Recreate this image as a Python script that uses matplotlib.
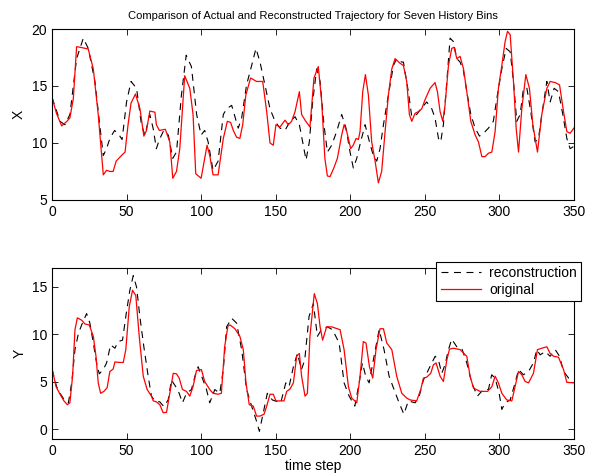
import matplotlib
matplotlib.use("Agg")
import matplotlib.pyplot as plt

plt.rcParams['font.family'] = ['Liberation Sans', 'DejaVu Sans']
plt.rcParams['lines.scale_dashes'] = False

# X trajectory, original
tx_orig = [0, 3, 6.5, 10, 12, 14.3, 16.5, 18.8, 24.3, 27.7, 31, 34.4, 36.6, 38.8, 41, 43, 46.6, 49,
           51, 53, 56, 59, 61.6, 63.4, 65.6, 69, 70, 72, 76, 79, 81, 83.5, 85.7, 89, 92.4, 94.6, 96.4,
           100, 102.4, 104, 105.8, 108, 111.4, 114.9, 117.6, 119.8, 121.6, 123.8, 126, 127.9, 130,
           133.2, 137.2, 141.3, 144, 146.2, 148.4, 150.2, 152.9, 156.3, 158.5, 160.7, 163, 165.9,
           167.4, 169.7, 173, 175.7, 178.6, 180.9, 183, 184.7, 186.5, 189, 191.4, 194.3, 195.9,
           197.7, 200.3, 202, 204, 205.5, 206.6, 208.4, 210.2, 212.2, 214.4, 216.7, 218.9, 221.1,
           223.4, 225.6, 227.9, 230.1, 233.4, 235.7, 237.9, 239.7, 241.3, 243.5, 245.7, 248, 250.2,
           253.6, 256.9, 258.5, 260.3, 262.1, 263.6, 265.9, 268.1, 269.7, 271.5, 273.7, 276, 278.2,
           280.9, 283.8, 286, 288.3, 290.5, 292.7, 295, 297.2, 299.4, 301.7, 303.9, 305.5, 307.3,
           309.5, 311.3, 312.9, 315.1, 317.8, 320.2, 322.5, 325.6, 328.5, 331.9, 334.1, 337.5,
           340.4, 343.1, 345.3, 347.5, 350]
x_orig = [14.0, 12.6, 11.5, 11.9, 12.2, 13.9, 18.45, 18.4, 18.25, 16.5, 12.5, 7.2, 7.6, 7.5, 7.5, 8.4,
          8.9, 9.2, 11.6, 13.5, 14.3, 13.0, 10.6, 11.1, 12.8, 12.7, 11.6, 11.1, 11.2, 10.1, 6.9, 7.5,
          9.5, 15.9, 14.8, 12.5, 7.3, 6.9, 8.65, 9.8, 8.9, 7.2, 7.2, 10.4, 11.9, 11.8, 11.1, 10.5,
          10.4, 11.6, 14.2, 15.7, 15.4, 15.4, 12.75, 10.0, 9.8, 11.6, 11.4, 12.0, 11.6, 11.9, 12.75,
          14.5, 12.5, 12.0, 11.4, 15.7, 16.7, 13.6, 8.65, 7.1, 7.05, 7.8, 8.65, 10.7, 11.6, 11.0,
          9.5, 9.8, 10.4, 10.3, 11.0, 14.5, 16.0, 14.2, 10.1, 8.4, 6.5, 7.5, 11.0, 14.2, 16.5, 17.4,
          17.0, 16.8, 15.4, 12.5, 11.9, 12.6, 12.75, 13.0, 13.8, 14.8, 15.3, 14.5, 12.75, 11.9, 13.3,
          16.8, 18.3, 18.4, 17.4, 17.6, 16.5, 14.5, 11.9, 10.7, 10.1, 8.8, 8.8, 9.1, 9.2, 11.0, 14.8,
          16.8, 18.9, 19.8, 19.5, 15.4, 11.3, 9.2, 13.0, 16.0, 14.8, 11.6, 9.2, 12.5, 14.8, 15.4,
          15.3, 15.1, 12.75, 11.0, 10.85, 11.3]

# X trajectory, reconstruction
tx_rec = [0, 5.4, 8.7, 12, 16.5, 21, 24.3, 28.8, 32, 34.4, 36.6, 38.8, 42, 45, 47, 50, 53, 56.7, 60,
          62.3, 65.6, 67.8, 70, 72, 75, 78, 81, 83.5, 86.8, 90, 93.5, 97, 100, 102.4, 104.7, 108,
          111.4, 113.6, 114.9, 117.1, 120.5, 122.7, 124.9, 127.2, 130.5, 133.9, 136.8, 139.5,
          142.8, 146.2, 149.6, 152.9, 156.3, 159.6, 163, 165.9, 168.1, 170.4, 172.6, 174.8, 177.5,
          179.8, 182.4, 184.7, 187.6, 190.9, 194.3, 197.2, 199.9, 202.1, 204.4, 207, 210, 212.9,
          215.5, 217.8, 220, 222.3, 225.6, 229, 231.2, 234.6, 235.7, 239, 241.3, 244.6, 246.9,
          251.3, 254.7, 256.9, 259.2, 260.7, 262.5, 264.8, 267, 269.2, 271.5, 273.7, 276, 278.2,
          280.9, 283.8, 286.7, 289.4, 292.7, 296, 298.7, 301.7, 304.6, 307.3, 309.5, 311.7, 314,
          316.2, 318.5, 321.1, 324, 326.3, 328.5, 331.9, 334.1, 336.8, 339.7, 342.6, 345.3, 347.5,
          350]
x_rec = [14.0, 11.9, 11.6, 12.5, 17.4, 19.2, 18.3, 15.4, 11.6, 8.9, 9.5, 10.4, 11.1, 10.7, 10.3,
         13.6, 15.4, 14.8, 11.6, 10.7, 12.5, 11.3, 9.5, 10.3, 11.1, 10.7, 8.65, 9.2, 14.2, 17.7,
         16.7, 12.5, 10.7, 11.1, 10.1, 7.6, 8.4, 11.0, 12.5, 13.0, 13.3, 12.3, 11.3, 12.2, 15.1,
         16.8, 18.3, 17.1, 15.1, 13.0, 11.9, 11.3, 11.1, 11.9, 12.3, 11.6, 10.1, 8.5, 10.1, 13.6,
         16.5, 15.4, 11.6, 9.2, 9.8, 11.0, 12.5, 11.3, 9.2, 7.8, 8.65, 10.1, 11.6, 10.1, 8.9, 8.4,
         9.5, 11.6, 14.2, 16.8, 17.4, 17.1, 17.1, 14.5, 12.3, 12.5, 12.9, 13.6, 13.0, 12.2, 10.4,
         10.1, 11.6, 15.4, 19.2, 18.9, 17.4, 17.1, 16.3, 14.5, 12.5, 11.3, 10.6, 10.85, 11.3,
         11.9, 14.2, 16.5, 18.3, 18.0, 15.4, 11.9, 12.5, 14.8, 14.8, 12.75, 10.1, 10.4, 12.5, 15.4,
         13.6, 14.8, 14.5, 12.5, 10.4, 9.5, 9.7]

# Y trajectory, original
ty_orig = [0, 2.7, 5.4, 8, 10.3, 12, 13.8, 15.4, 17, 19.9, 22.1, 25, 27.7, 29.5, 31, 32.6, 34.8, 37,
           38.8, 41, 42.2, 45.5, 47.8, 49.5, 51.8, 54, 56.2, 58.5, 61.2, 63.8, 66.7, 67.9, 70, 72.3,
           74.6, 76.8, 79, 81.3, 83.5, 85.3, 87.5, 90.2, 92.4, 94.6, 96.9, 100.2, 102.4, 105.8, 108,
           111.4, 113.6, 115.8, 118, 119.4, 122.7, 126, 128.3, 130.1, 132.3, 135, 137.2, 139.5,
           142.2, 144, 146.2, 148.4, 150.2, 152.9, 155.6, 157.4, 159.6, 161.9, 164.1, 165.9, 167.4,
           169.7, 171.3, 173, 175.9, 178, 179.8, 181.5, 184.2, 187.6, 193.2, 195.9, 198.8, 201,
           204.4, 206.6, 208.8, 210.6, 212.9, 215.1, 217.3, 220, 222.3, 224.5, 227.9, 231.2, 234.6,
           237.9, 240.2, 244.6, 247.3, 249.1, 251.3, 254, 255.8, 257.6, 260.3, 262.5, 264.8, 266.6,
           269.2, 273.7, 278.2, 280.4, 282.7, 287.1, 292.1, 295, 297.2, 299.4, 301.7, 305, 308.4,
           310.6, 312.9, 315.1, 317.3, 319.6, 322.9, 325.6, 328.5, 331.9, 334.1, 336.4, 339.7,
           343.1, 345.3, 350]
y_orig = [6.45, 4.5, 3.7, 3.0, 2.6, 2.8, 5.6, 10.5, 11.75, 11.5, 11.1, 11.0, 9.8, 7.7, 4.9, 3.8, 4.0,
          4.4, 6.1, 6.35, 7.1, 7.05, 7.05, 8.4, 12.9, 14.65, 14.1, 9.8, 5.6, 4.2, 3.5, 3.0, 2.9, 2.6,
          1.75, 1.8, 3.8, 5.9, 5.85, 5.4, 4.2, 4.0, 3.5, 4.5, 6.2, 6.3, 5.05, 4.2, 3.8, 3.7, 3.8, 8.7,
          10.9, 11.0, 10.6, 9.8, 8.4, 4.9, 2.6, 2.45, 1.4, 1.4, 1.6, 2.45, 3.7, 3.7, 3.0, 3.0, 3.0,
          4.0, 4.25, 4.9, 7.7, 8.0, 5.6, 3.5, 3.8, 9.8, 14.3, 13.25, 10.8, 9.4, 10.8, 10.8, 10.5,
          8.4, 4.5, 3.3, 2.8, 5.6, 9.25, 9.1, 6.6, 5.4, 8.4, 10.6, 10.6, 9.1, 8.4, 5.6, 3.8, 3.3, 3.1,
          3.0, 4.2, 5.4, 5.5, 5.9, 6.8, 7.0, 5.6, 5.05, 7.3, 8.45, 8.55, 8.4, 7.7, 5.6, 4.35, 4.0,
          4.0, 4.5, 5.6, 4.9, 3.8, 3.1, 3.0, 4.5, 6.1, 5.75, 5.05, 4.9, 5.9, 8.4, 8.55, 8.7, 8.0,
          7.7, 7.6, 6.3, 4.95, 4.9]

# Y trajectory, reconstruction
ty_rec = [0, 3.1, 5.4, 8.7, 11, 13.2, 15.4, 17.7, 19.9, 23.2, 25.4, 27.7, 29.9, 31.7, 34.4, 36.6, 39.3,
          42.2, 44.4, 47.3, 49.5, 52.2, 54.5, 56.7, 58.9, 61.6, 64.5, 66.7, 69, 72.3, 75, 77.9, 80.1,
          83, 85.3, 87.5, 90.2, 93.5, 96.4, 98, 101.3, 103.6, 105.8, 109.2, 112.5, 114.9, 117.1,
          120.5, 123.8, 127.2, 130.5, 133.9, 136.8, 139.1, 141.7, 144.4, 147.8, 153.4, 156.8, 159,
          161.9, 164.6, 167.3, 169.5, 172.4, 175.3, 178, 180.7, 184.7, 188.1, 192.6, 195.9, 199.3,
          203.1, 206, 208.2, 210.4, 212.7, 216, 219.4, 222.7, 226.1, 229.4, 232.8, 236, 239, 243.5,
          246.3, 249.1, 251.3, 254.7, 257, 259.2, 261.4, 263.6, 265.9, 268.1, 271.5, 274.8, 278.2,
          281.5, 285.3, 289.3, 292.7, 294.9, 297.2, 299.9, 301.7, 303.9, 307.3, 310.6, 312.9,
          316.2, 319.6, 322.9, 325.2, 327.4, 330.8, 334.1, 337.5, 340.4, 343.1, 346.5, 350]
y_rec = [6.3, 4.5, 3.8, 3.0, 2.8, 4.9, 8.4, 10.1, 11.0, 12.2, 11.2, 9.1, 7.0, 5.85, 6.3, 7.0, 8.9,
         8.55, 9.25, 9.4, 11.9, 14.65, 16.2, 15.0, 11.9, 8.7, 5.6, 3.5, 3.0, 2.9, 2.4, 3.1, 5.2, 4.5,
         3.8, 2.8, 3.8, 4.2, 5.9, 6.6, 5.2, 4.2, 2.8, 4.2, 3.8, 6.3, 10.8, 11.7, 11.2, 8.4, 4.2,
         2.45, 1.05, -0.2, 1.75, 3.8, 3.1, 2.8, 4.9, 4.5, 6.6, 8.0, 6.3, 7.3, 11.9, 13.25, 9.8,
         10.5, 10.8, 10.5, 9.1, 4.9, 3.5, 2.45, 4.9, 7.0, 5.6, 4.9, 7.7, 10.5, 8.4, 5.6, 4.2, 2.8,
         1.6, 3.0, 2.8, 3.5, 5.2, 5.9, 7.0, 7.7, 7.3, 5.9, 6.8, 8.4, 9.5, 8.7, 8.55, 7.0, 4.9, 3.5,
         4.2, 4.2, 5.75, 5.4, 3.8, 2.1, 2.8, 3.1, 4.9, 6.3, 5.75, 6.1, 7.0, 8.4, 7.85, 8.2, 7.7,
         8.4, 7.7, 6.1, 5.4, 5.4]

fig = plt.figure(figsize=(5.93, 4.76), dpi=100)
ax1 = fig.add_axes([0.0877, 0.580, 0.880, 0.359])
ax2 = fig.add_axes([0.0877, 0.078, 0.880, 0.359])

dash = (5.0, 4.0)

ax1.plot(tx_rec, x_rec, color='black', lw=0.8, ls='--', dashes=dash)
ax1.plot(tx_orig, x_orig, color='red', lw=0.9)
ax1.set_xlim(0, 350)
ax1.set_ylim(5, 20)
ax1.set_yticks([5, 10, 15, 20])
ax1.set_ylabel('X', fontsize=10)
ax1.set_title('Comparison of Actual and Reconstructed Trajectory for Seven History Bins',
              fontsize=8, pad=7)

ax2.plot(ty_rec, y_rec, color='black', lw=0.8, ls='--', dashes=dash, label='reconstruction')
ax2.plot(ty_orig, y_orig, color='red', lw=0.9, label='original')
ax2.set_xlim(0, 350)
ax2.set_ylim(-1, 17)
ax2.set_yticks([0, 5, 10, 15])
ax2.set_ylabel('Y', fontsize=10)
ax2.set_xlabel('time step', fontsize=10, labelpad=1)

leg = ax2.legend(loc='upper right', bbox_to_anchor=(1.014, 1.036), fancybox=False,
                 framealpha=1, edgecolor='black', fontsize=10, handlelength=2.9,
                 borderpad=0.3, labelspacing=0.2, handletextpad=0.6, borderaxespad=0)
leg.get_frame().set_linewidth(0.8)

for ax in (ax1, ax2):
    ax.set_xticks(range(0, 351, 50))
    ax.tick_params(direction='in', top=True, right=True, length=4, width=0.6, labelsize=10)
    for sp in ax.spines.values():
        sp.set_linewidth(0.8)

plt.savefig('out.png', dpi=100)
